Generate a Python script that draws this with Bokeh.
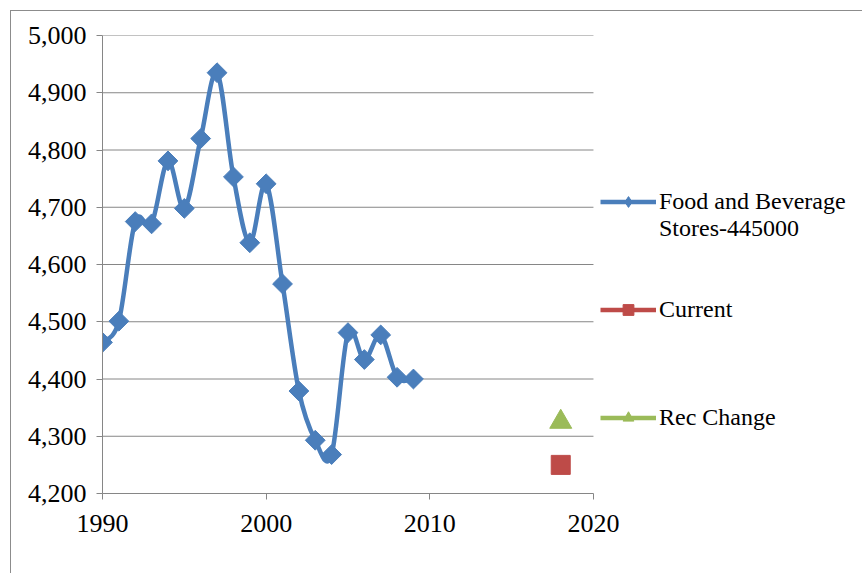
import math
from bokeh.plotting import figure
from bokeh.models import (ColumnDataSource, Legend, LegendItem, FixedTicker,
                          NumeralTickFormatter, Range1d)
from bokeh.embed import file_html
from bokeh.resources import INLINE

years = [1990, 1991, 1992, 1993, 1994, 1995, 1996, 1997, 1998, 1999,
         2000, 2001, 2002, 2003, 2004, 2005, 2006, 2007, 2008, 2009]
food_bev = [4464, 4501, 4675, 4671, 4781, 4698, 4820, 4935, 4753, 4638,
            4741, 4566, 4379, 4293, 4268, 4481, 4434, 4477, 4403, 4400]
current_x = [2018]
current_y = [4250]
rec_x = [2018]
rec_y = [4325]

y_ticks = [4200, 4300, 4400, 4500, 4600, 4700, 4800, 4900, 5000]
x_ticks = [1990, 2000, 2010, 2020]

BLUE = "#4A7EBB"
RED = "#BE4B48"
GREEN = "#9BBB59"
GRID = "#868686"
FONT = "Liberation Serif"

# Smoothed-line control points (Catmull-Rom style, as Excel's smoothed line)
n = len(years)
x0, y0, x1, y1, cx0, cy0, cx1, cy1 = [], [], [], [], [], [], [], []
for i in range(n - 1):
    pm = i - 1 if i > 0 else i
    pp = i + 2 if i + 2 < n else i + 1
    x0.append(years[i]); y0.append(food_bev[i])
    x1.append(years[i + 1]); y1.append(food_bev[i + 1])
    cx0.append(years[i] + (years[i + 1] - years[pm]) / 6)
    cy0.append(food_bev[i] + (food_bev[i + 1] - food_bev[pm]) / 6)
    cx1.append(years[i + 1] - (years[pp] - years[i]) / 6)
    cy1.append(food_bev[i + 1] - (food_bev[pp] - food_bev[i]) / 6)

# frame extends to the right edge so the legend can sit inside it;
# axis line and gridlines are bounded to 1990-2020
p = figure(width=852, height=563, output_backend="svg", toolbar_location=None,
           x_range=Range1d(1990, 2036.5), y_range=Range1d(4200, 5000),
           min_border_left=91, min_border_right=0, min_border_top=24,
           min_border_bottom=81, margin=(10, 0, 0, 10))
p.styles = {"border-left": "1px solid #8C8C8C", "border-top": "1px solid #8C8C8C"}
p.outline_line_color = None
p.background_fill_color = "white"
p.border_fill_color = "white"

p.xgrid.grid_line_color = None
p.ygrid.grid_line_color = None

p.xaxis.ticker = FixedTicker(ticks=x_ticks)
p.xaxis.bounds = (x_ticks[0], x_ticks[-1])
p.yaxis.ticker = FixedTicker(ticks=y_ticks)
p.yaxis.formatter = NumeralTickFormatter(format="0,0")
for ax in (p.xaxis, p.yaxis):
    ax.axis_line_color = GRID
    ax.major_tick_line_color = GRID
    ax.major_tick_out = 6
    ax.major_tick_in = 0
    ax.minor_tick_line_color = None
    ax.major_label_text_font = FONT
    ax.major_label_text_font_size = "26px"
    ax.major_label_text_color = "black"
p.xaxis.major_label_standoff = 15
p.yaxis.major_label_standoff = 10

# horizontal gridlines (all but the bottom one, which is the axis line)
grid_y = y_ticks[1:]
p.segment(x0=[x_ticks[0]] * len(grid_y), x1=[x_ticks[-1]] * len(grid_y),
          y0=grid_y, y1=grid_y, line_color=GRID, line_width=1)

src = ColumnDataSource(dict(x0=x0, y0=y0, x1=x1, y1=y1, cx0=cx0, cy0=cy0, cx1=cx1, cy1=cy1))
p.bezier(x0="x0", y0="y0", x1="x1", y1="y1", cx0="cx0", cy0="cy0", cx1="cx1", cy1="cy1",
         source=src, line_color=BLUE, line_width=4.5)
p.scatter(years, food_bev, marker="square", angle=math.pi / 4, size=14,
          fill_color=BLUE, line_color=BLUE)
cur_pts = p.scatter(current_x, current_y, marker="square", size=19,
                    fill_color=RED, line_color=RED)
rec_pts = p.scatter(rec_x, rec_y, marker="triangle", size=22,
                    fill_color=GREEN, line_color=GREEN)

nan = float("nan")
food_leg_line = p.line([nan], [nan], line_color=BLUE, line_width=4.5)
food_leg_pt = p.scatter([nan], [nan], marker="diamond", size=12,
                        fill_color=BLUE, line_color=BLUE)
cur_leg_line = p.line([nan], [nan], line_color=RED, line_width=4.5)
rec_leg_line = p.line([nan], [nan], line_color=GREEN, line_width=4.5)
blank = p.line([nan], [nan], line_alpha=0)

items = [
    LegendItem(label="Food and Beverage", renderers=[food_leg_line, food_leg_pt]),
    LegendItem(label="Stores-445000", renderers=[blank]),
    LegendItem(label=" ", renderers=[blank]),
    LegendItem(label=" ", renderers=[blank]),
    LegendItem(label="Current", renderers=[cur_leg_line, cur_pts]),
    LegendItem(label=" ", renderers=[blank]),
    LegendItem(label=" ", renderers=[blank]),
    LegendItem(label=" ", renderers=[blank]),
    LegendItem(label="Rec Change", renderers=[rec_leg_line, rec_pts]),
]
legend = Legend(items=items, location=(498, 62),
                border_line_color=None, background_fill_alpha=0, padding=0, margin=0,
                glyph_width=56, glyph_height=27, label_height=27, label_standoff=3,
                label_text_font=FONT, label_text_font_size="24px",
                label_text_color="black", spacing=0)
p.add_layout(legend, "center")

open("out.html", "w").write(file_html(p, INLINE))
